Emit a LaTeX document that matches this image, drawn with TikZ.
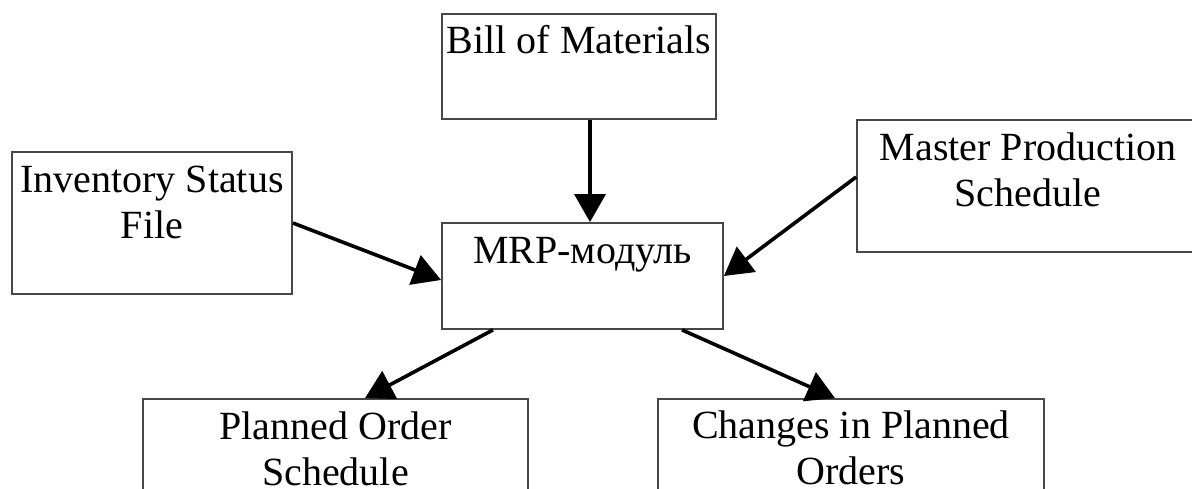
\documentclass[tikz,border=0pt]{standalone}
\usepackage{fontspec}
\setmainfont{Liberation Serif}
\usetikzlibrary{arrows.meta}

\tikzset{
  box/.style={draw=black!72, line width=1.8pt, rectangle, inner sep=0pt},
  lbl/.style={anchor=base, inner sep=0pt, align=center,
              font=\fontsize{40}{46}\selectfont},
  flow/.style={draw=black, line width=3.6pt,
               -{Triangle[length=28pt,width=31pt]}},
}

\begin{document}
\begin{tikzpicture}[x=1pt, y=-1pt]
  \useasboundingbox (0,0) rectangle (1192,488);

  % input files (two-line labels are placed by the baseline of their last line)
  \node[box, minimum width=274pt, minimum height=105pt] (bom) at (579,66.5) {};
  \node[lbl] (bomt) at ([yshift=-40pt]bom.north) {Bill of Materials};

  \node[box, minimum width=280pt, minimum height=142pt] (inv) at (152,223) {};
  \node[lbl] (invt) at ([yshift=-87pt]inv.north) {Inventory Status\\File};

  \node[box, minimum width=342pt, minimum height=132pt] (mps) at (1028,186) {};
  \node[lbl] (mpst) at ([yshift=-87pt]mps.north) {Master Production\\Schedule};

  % central module
  \node[box, minimum width=281pt, minimum height=106pt] (mrp) at (582.5,276) {};
  \node[lbl] (mrpt) at ([yshift=-41pt]mrp.north) {MRP-модуль};

  % outputs
  \node[box, minimum width=385pt, minimum height=120pt] (pos) at (335.5,459) {};
  \node[lbl] (post) at ([yshift=-87pt]pos.north) {Planned Order\\Schedule};

  \node[box, minimum width=386pt, minimum height=120pt] (cpo) at (851,459) {};
  \node[lbl] (cpot) at ([yshift=-86pt]cpo.north) {Changes in Planned\\Orders};

  % flows
  \draw[flow] ([xshift=11pt]bom.south) -- ([xshift=11pt]bom.south |- mrp.north);
  \draw[flow] (inv.east) -- ([yshift=-4pt]mrp.west);
  \draw[flow] ([yshift=9pt]mps.west) -- (mrp.east);
  \draw[flow] ([xshift=-89.5pt]mrp.south) -- ([xshift=29.5pt]pos.north);
  \draw[flow] ([xshift=99.5pt]mrp.south) -- ([xshift=-16pt]cpo.north);
\end{tikzpicture}
\end{document}
